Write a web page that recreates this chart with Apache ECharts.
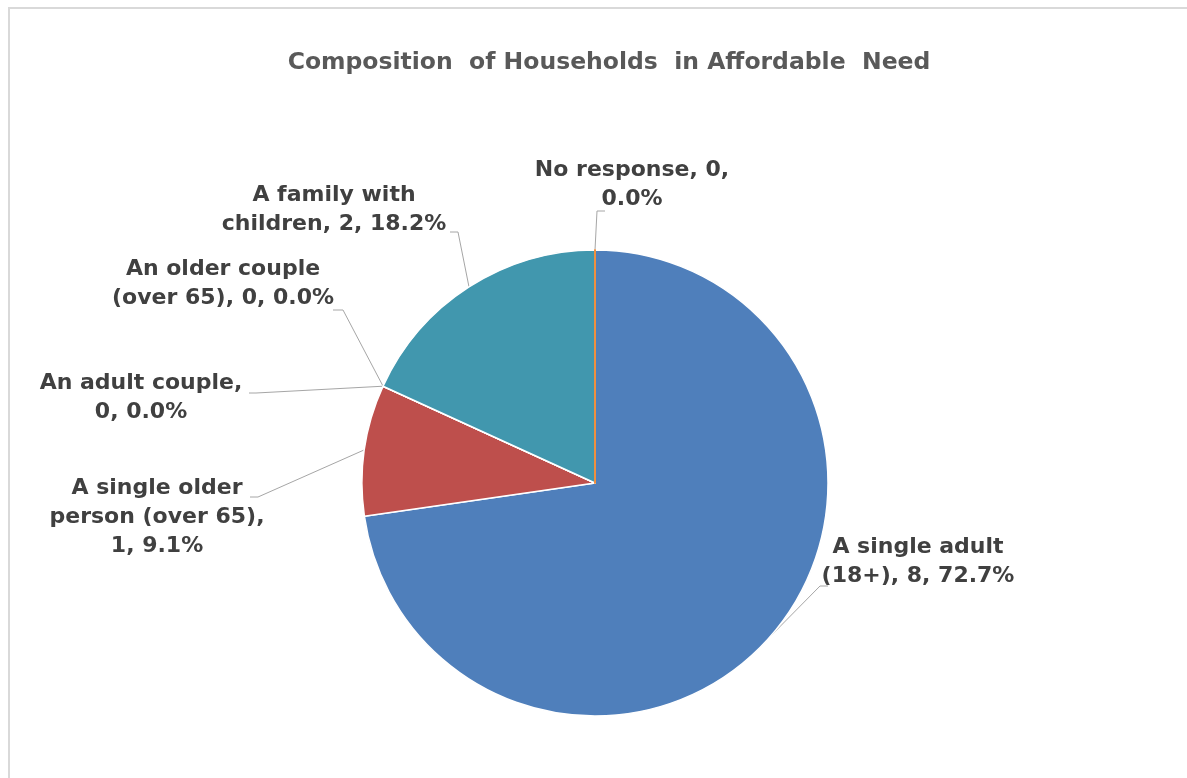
<!DOCTYPE html>
<html>
<head>
<meta charset="utf-8">
<script src="https://cdn.jsdelivr.net/npm/echarts@6/dist/echarts.min.js"></script>
<style>
html,body{margin:0;padding:0;background:#fff;}
#chart{width:1187px;height:778px;}
</style>
</head>
<body>
<div id="chart"></div>
<script>
// ---- data ----
var titleText = 'Composition  of Households  in Affordable  Need';
var categories = [
  'A single adult (18+)',
  'A single older person (over 65)',
  'An adult couple',
  'An older couple (over 65)',
  'A family with children',
  'No response'
];
var values = [8, 1, 0, 0, 2, 0];
var colors = ['#4F7FBB', '#BE4F4C', '#9BBB59', '#8064A2', '#4197AE', '#F79646'];

// ---- layout (label placement, word-break positions, leader elbows) ----
var labelBreaks = [[3], [3, 6], [3], [3], [3], [3]];
var labelCenters = [[918, 562], [157, 517], [141, 398], [223, 284], [334, 210], [632, 185]];
var lineElbows = [
  [[820, 586], [828, 586]],
  [[258, 497], [250, 497]],
  [[256, 393], [249, 393]],
  [[343, 310], [333, 310]],
  [[458, 232], [450, 232]],
  [[597, 211], [605, 211]]
];

function wrapLabel(text, breaks) {
  var words = text.split(' ');
  var out = '';
  for (var i = 0; i < words.length; i++) {
    out += words[i];
    if (i < words.length - 1) out += (breaks.indexOf(i + 1) >= 0) ? '\n' : ' ';
  }
  return out;
}

var data = categories.map(function (c, i) {
  var item = { name: c, value: values[i], itemStyle: { color: colors[i] } };
  if (i === 5) { item.itemStyle.borderColor = '#F0903F'; item.itemStyle.borderWidth = 2; }
  return item;
});

var chart = echarts.init(document.getElementById('chart'));
chart.setOption({
  backgroundColor: '#ffffff',
  animation: false,
  title: {
    text: titleText,
    left: 604, top: 46, textAlign: 'center',
    textStyle: { fontFamily: 'DejaVu Sans', fontWeight: 'bold', fontSize: 23.5, color: '#595959' }
  },
  graphic: [{
    type: 'rect', shape: { x: 9, y: 8, width: 1300, height: 900 },
    style: { fill: 'none', stroke: '#D9D9D9', lineWidth: 2 }, silent: true
  }],
  series: [{
    type: 'pie',
    center: [595, 483],
    radius: 233,
    startAngle: 90,
    clockwise: true,
    avoidLabelOverlap: false,
    percentPrecision: 1,
    data: data,
    itemStyle: { borderColor: '#ffffff', borderWidth: 1.5 },
    label: {
      show: true,
      position: 'outside',
      fontFamily: 'DejaVu Sans',
      fontWeight: 'bold',
      fontSize: 22,
      lineHeight: 29,
      color: '#404040',
      align: 'center',
      formatter: function (p) {
        var t = p.name + ', ' + p.value + ', ' + p.percent.toFixed(1) + '%';
        return wrapLabel(t, labelBreaks[p.dataIndex]);
      }
    },
    labelLine: { show: true, length: 10, length2: 10, lineStyle: { color: '#A6A6A6', width: 1 } },
    labelLayout: function (params) {
      var i = params.dataIndex;
      var start = params.labelLinePoints ? params.labelLinePoints[0] : lineElbows[i][0];
      return {
        x: labelCenters[i][0],
        y: labelCenters[i][1],
        align: 'center',
        verticalAlign: 'middle',
        labelLinePoints: [start, lineElbows[i][0], lineElbows[i][1]]
      };
    }
  }]
});
</script>
</body>
</html>
